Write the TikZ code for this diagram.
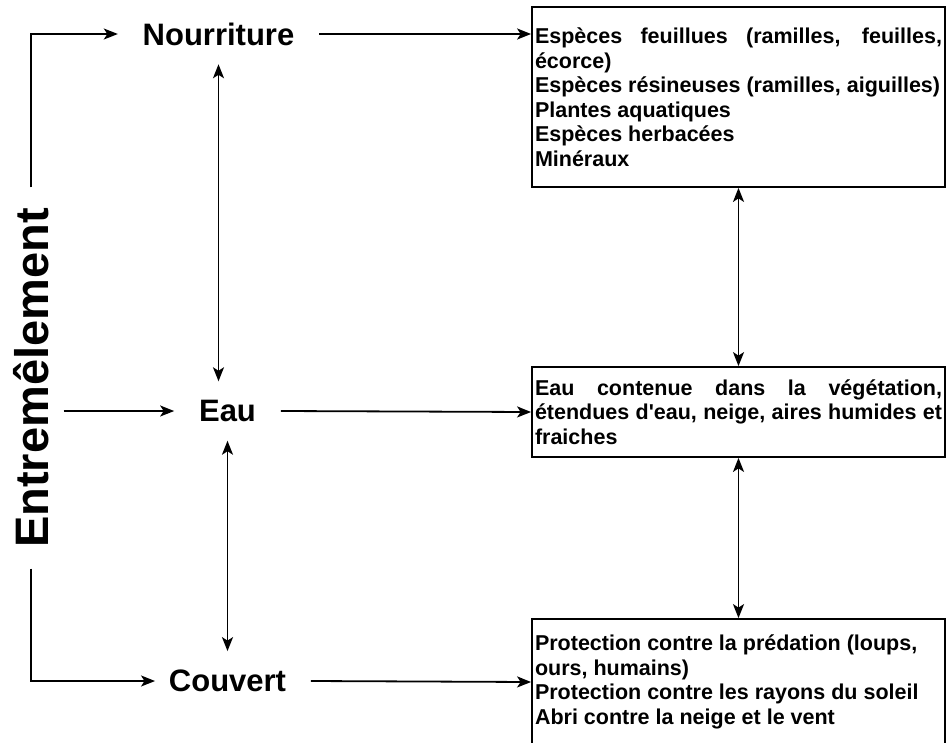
\documentclass[tikz,border=0pt]{standalone}
\usepackage{fontspec}
\setmainfont{Liberation Sans}
\usetikzlibrary{arrows.meta}
\newcommand{\justline}[1]{{\spaceskip=0pt\xspaceskip=0pt\makebox[407pt][s]{#1}}}

\begin{document}
\begin{tikzpicture}[x=1pt,y=-1pt,line width=1.8pt,
    >={Stealth[length=14pt,width=11pt,inset=3.5pt]},
    need/.style={font=\fontsize{31}{36}\selectfont\bfseries,inner xsep=24pt,inner ysep=18pt},
    infobox/.style={draw,font=\fontsize{21.5}{24.5}\selectfont\bfseries,text width=407pt,
      align=flush left,inner xsep=3pt,minimum width=413pt,
      execute at begin node={\spaceskip=0pt\xspaceskip=0pt\hyphenpenalty=10000}}]
  \useasboundingbox (0,0) rectangle (948,742);
  % besoins
  \node[need] (Nourriture) at (218.5,34) {Nourriture};
  \node[need] (Eau) at (227.5,411) {Eau};
  \node[need] (Couvert) at (227.5,681) {Couvert};
  \node[font=\fontsize{47}{52}\selectfont\bfseries,rotate=90,inner xsep=20pt,inner ysep=14pt]
    (ent) at (31,378) {Entremêlement};
  % boites de droite
  \node[infobox,minimum height=180pt] (food) at (738.5,97) {\justline{Espèces feuillues (ramilles, feuilles,}\\
    écorce)\\Espèces résineuses (ramilles, aiguilles)\\Plantes aquatiques\\Espèces herbacées\\Minéraux};
  \node[infobox,minimum height=90pt] (water) at (738.5,412) {\justline{Eau contenue dans la végétation,}\\
    \justline{étendues d\textquotesingle eau, neige, aires humides et}\\fraiches};
  \node[infobox,minimum height=126pt] (shelter) at (738.5,682) {Protection contre la prédation (loups,\\
    ours, humains)\\Protection contre les rayons du soleil\\Abri contre la neige et le vent};
  % fleches
  \draw[->] (ent.east) |- (Nourriture.west);
  \draw[->] (ent.south |- Eau.west) -- (Eau.west);
  \draw[->] (ent.west) |- ([xshift=11pt]Couvert.west);
  \draw[<->] (Nourriture.south) -- (Nourriture.south |- Eau.north);
  \draw[<->] (Eau.south) -- (Couvert.north);
  \draw[->] (Nourriture.east) -- (food.west |- Nourriture.east);
  \draw[->] (Eau.east) -- (water.west);
  \draw[->] (Couvert.east) -- (shelter.west);
  \draw[<->] (food.south) -- (water.north);
  \draw[<->] (water.south) -- (shelter.north);
\end{tikzpicture}
\end{document}
